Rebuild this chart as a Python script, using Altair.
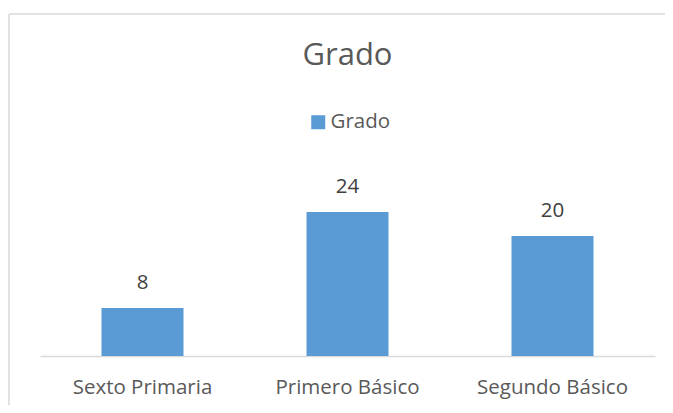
import altair as alt
import pandas as pd

categories = ["Sexto Primaria", "Primero Básico", "Segundo Básico"]
values = [8, 24, 20]
series_name = "Grado"

df = pd.DataFrame({"cat": categories, "val": values, "serie": [series_name] * len(values)})
frame_df = pd.DataFrame({"a": [0]})

FONT = "Open Sans"

base = alt.Chart(df).encode(
    x=alt.X("cat:N", sort=categories, title=None,
            scale=alt.Scale(paddingInner=0.6, paddingOuter=0.3),
            axis=alt.Axis(labelAngle=0, ticks=False, domainColor="#d9d9d9", domainWidth=1.5,
                          labelFont=FONT, labelFontSize=20.5, labelColor="#595959",
                          labelPadding=21, grid=False)),
    y=alt.Y("val:Q", scale=alt.Scale(domain=[0, 30]), axis=None),
)

bars = base.mark_bar(color="#5B9BD5").encode(
    color=alt.Color("serie:N", scale=alt.Scale(domain=[series_name], range=["#5B9BD5"]),
                    legend=alt.Legend(title=None, orient="none", legendX=268, legendY=-64,
                                      symbolType="square", symbolSize=196, symbolStrokeWidth=0,
                                      labelFont=FONT, labelFontSize=20.5, labelColor="#595959",
                                      labelOffset=2, padding=0))
)

labels = base.mark_text(baseline="alphabetic", dy=-19, font=FONT, fontSize=20.5, color="#404040").encode(
    text="val:Q"
)

left_border = alt.Chart(frame_df).mark_rule(color="#d9d9d9", strokeWidth=1.5).encode(
    x=alt.value(-31), y=alt.value(-162), y2=alt.value(240)
)
top_border = alt.Chart(frame_df).mark_rule(color="#d9d9d9", strokeWidth=1.5).encode(
    x=alt.value(-31), x2=alt.value(640), y=alt.value(-162)
)

chart = alt.layer(left_border, top_border, bars, labels).properties(
    width=615, height=180,
    autosize=alt.AutoSizeParams(type="none"),
    padding={"left": 32, "top": 168, "right": 10, "bottom": 49},
    title=alt.Title("Grado", font=FONT, fontSize=31, fontWeight="normal", color="#595959",
                    anchor="middle", baseline="alphabetic", offset=0, dy=83),
).configure_view(stroke=None)

chart.save("out.html", embed_options={"renderer": "svg", "actions": False})
